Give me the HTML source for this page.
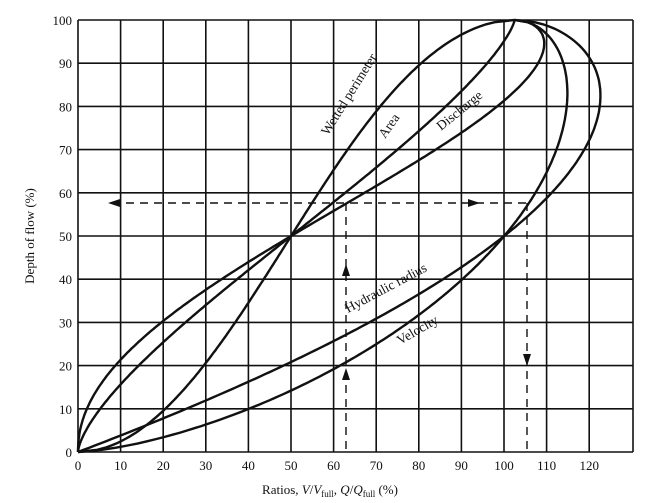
<!DOCTYPE html>
<html><head><meta charset="utf-8"><style>
html,body{margin:0;padding:0;background:#fff}
svg{display:block}
text{font-family:"Liberation Serif",serif;fill:#111}
</style></head><body>
<svg id="s" width="657" height="503" viewBox="0 0 657 503">
<g id="grid" stroke="#111" stroke-width="1.6" fill="none"></g>
<g id="curves" stroke="#111" stroke-width="2.4" fill="none"></g>
<g stroke="#111" stroke-width="1.4" stroke-dasharray="8,6" fill="none">
<line x1="112" y1="203" x2="527" y2="203"/>
<line x1="346" y1="203" x2="346" y2="452"/>
<line x1="527" y1="203" x2="527" y2="452"/>
</g>
<g fill="#111">
<polygon points="108,203 120,199 120,207"/>
<polygon points="480,203 468,199 468,207"/>
<polygon points="346,264 342,276 350,276"/>
<polygon points="346,368 342,380 350,380"/>
<polygon points="527,366 523,354 531,354"/>
</g>
<g font-size="13.5">
<text transform="translate(328,136) rotate(-58)">Wetted perimeter</text>
<text transform="translate(385,139) rotate(-55)">Area</text>
<text transform="translate(441,131) rotate(-39)">Discharge</text>
<text transform="translate(348,313) rotate(-28)">Hydraulic radius</text>
<text transform="translate(400,345) rotate(-30)">Velocity</text>
</g>
<g id="labels" font-size="13"></g>
<text x="330" y="494" font-size="13" text-anchor="middle">Ratios, <tspan font-style="italic">V</tspan>/<tspan font-style="italic">V</tspan><tspan font-size="9" dy="3">full</tspan><tspan dy="-3">, </tspan><tspan font-style="italic">Q</tspan>/<tspan font-style="italic">Q</tspan><tspan font-size="9" dy="3">full</tspan><tspan dy="-3"> (%)</tspan></text>
<text transform="translate(34,236) rotate(-90)" font-size="13" text-anchor="middle">Depth of flow (%)</text>
</svg>
<script>
var X=function(v){return 78+4.26*v},Y=function(d){return 452-4.32*d};
var g=document.getElementById('grid'),c=document.getElementById('curves'),L=document.getElementById('labels');
var ns='http://www.w3.org/2000/svg';
function el(p,t,a){var e=document.createElementNS(ns,t);for(var k in a)e.setAttribute(k,a[k]);p.appendChild(e);return e;}
for(var v=0;v<=120;v+=10){el(g,'line',{x1:X(v),y1:Y(0),x2:X(v),y2:Y(100)});var t=el(L,'text',{x:X(v),y:470,'text-anchor':'middle'});t.textContent=v;}
el(g,'line',{x1:633,y1:Y(0),x2:633,y2:Y(100)});
for(var d=0;d<=100;d+=10){el(g,'line',{x1:X(0),y1:Y(d),x2:633,y2:Y(d)});var t=el(L,'text',{x:72,y:Y(d)+5,'text-anchor':'end'});t.textContent=d;}
var P=[],A=[],R=[],V=[],Q=[];
for(var i=0;i<=200;i++){var d=i/200;var th=2*Math.acos(1-2*d);
var a=(th-Math.sin(th))/(2*Math.PI),p=th/(2*Math.PI),r=th>0?(th-Math.sin(th))/th:0,vv=Math.pow(r,2/3),q=a*vv;
var s=1+0.025*Math.pow(d,6);
var y=Y(d*100);
P.push(X(p*100*s).toFixed(1)+','+y.toFixed(1));A.push(X(a*100*s).toFixed(1)+','+y.toFixed(1));
R.push(X(r*100*s).toFixed(1)+','+y.toFixed(1));V.push(X(vv*100*s).toFixed(1)+','+y.toFixed(1));Q.push(X(q*100*s).toFixed(1)+','+y.toFixed(1));}
[P,A,R,V,Q].forEach(function(s){el(c,'polyline',{points:s.join(' ')});});
</script>
</body></html>
